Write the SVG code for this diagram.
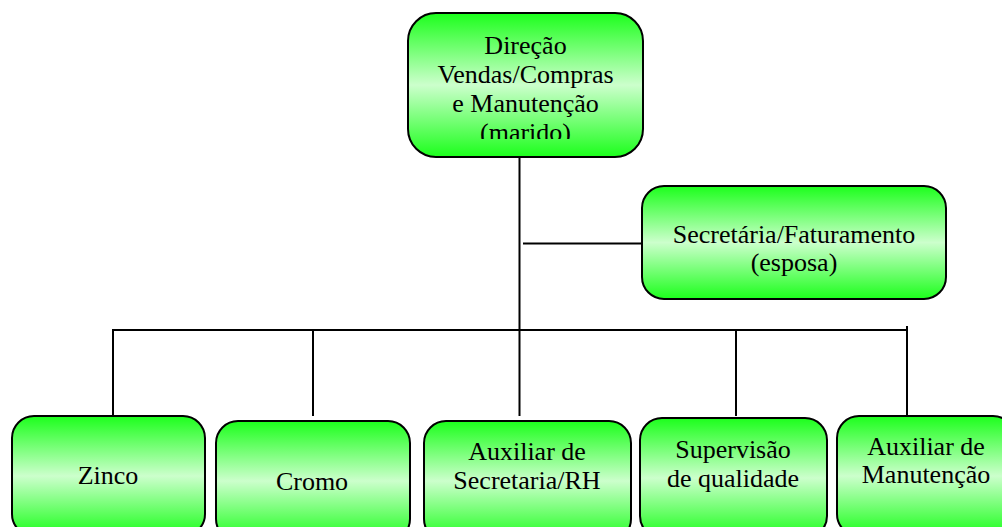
<svg xmlns="http://www.w3.org/2000/svg" width="1002" height="527" viewBox="0 0 1002 527">
<style>
.box{fill:url(#g);stroke:#000;stroke-width:2}
text{font-family:'Liberation Serif','Times New Roman',serif;font-size:26px;fill:#000;text-anchor:middle}
.c{stroke:#000;stroke-width:2;fill:none}
</style>
<defs>
<linearGradient id="g" x1="0" y1="0" x2="0" y2="1">
<stop offset="0" stop-color="#1cff1c"/>
<stop offset="0.5" stop-color="#ccffcc"/>
<stop offset="1" stop-color="#1cff1c"/>
</linearGradient>
<clipPath id="clipTop"><rect x="408" y="13" width="235" height="126"/></clipPath>
</defs>
<rect width="1002" height="527" fill="#fff"/>
<g id="connectors">
<line class="c" x1="519.5" y1="157" x2="519.5" y2="416"/>
<line class="c" x1="523" y1="243.5" x2="642" y2="243.5"/>
<line class="c" x1="112" y1="330" x2="907" y2="330"/>
<line class="c" x1="113" y1="329" x2="113" y2="416"/>
<line class="c" x1="313" y1="330" x2="313" y2="416"/>
<line class="c" x1="736" y1="330" x2="736" y2="416"/>
<line class="c" x1="907" y1="326" x2="907" y2="416"/>
</g>
<g id="n-direcao">
<rect class="box" x="408" y="13" width="235" height="144" rx="28"/>
<g clip-path="url(#clipTop)">
<text x="525.5" y="54">Direção</text>
<text x="525.5" y="83">Vendas/Compras</text>
<text x="525.5" y="112">e Manutenção</text>
<text x="525.5" y="141">(marido)</text>
</g>
</g>
<g id="n-secretaria">
<rect class="box" x="642" y="186" width="304" height="113" rx="22"/>
<text x="794" y="243">Secretária/Faturamento</text>
<text x="794" y="271">(esposa)</text>
</g>
<g id="n-zinco">
<rect class="box" x="12" y="416" width="193" height="120" rx="22"/>
<text x="108" y="484">Zinco</text>
</g>
<g id="n-cromo">
<rect class="box" x="216" y="421" width="194" height="120" rx="22"/>
<text x="312" y="490">Cromo</text>
</g>
<g id="n-auxsec">
<rect class="box" x="424" y="421" width="207" height="120" rx="22"/>
<text x="527" y="460">Auxiliar de</text>
<text x="527" y="489">Secretaria/RH</text>
</g>
<g id="n-supervisao">
<rect class="box" x="640" y="418" width="187" height="120" rx="22"/>
<text x="733" y="458">Supervisão</text>
<text x="733" y="487">de qualidade</text>
</g>
<g id="n-auxman">
<rect class="box" x="837" y="416" width="178" height="120" rx="22"/>
<text x="926" y="455">Auxiliar de</text>
<text x="926" y="483">Manutenção</text>
</g>
</svg>
